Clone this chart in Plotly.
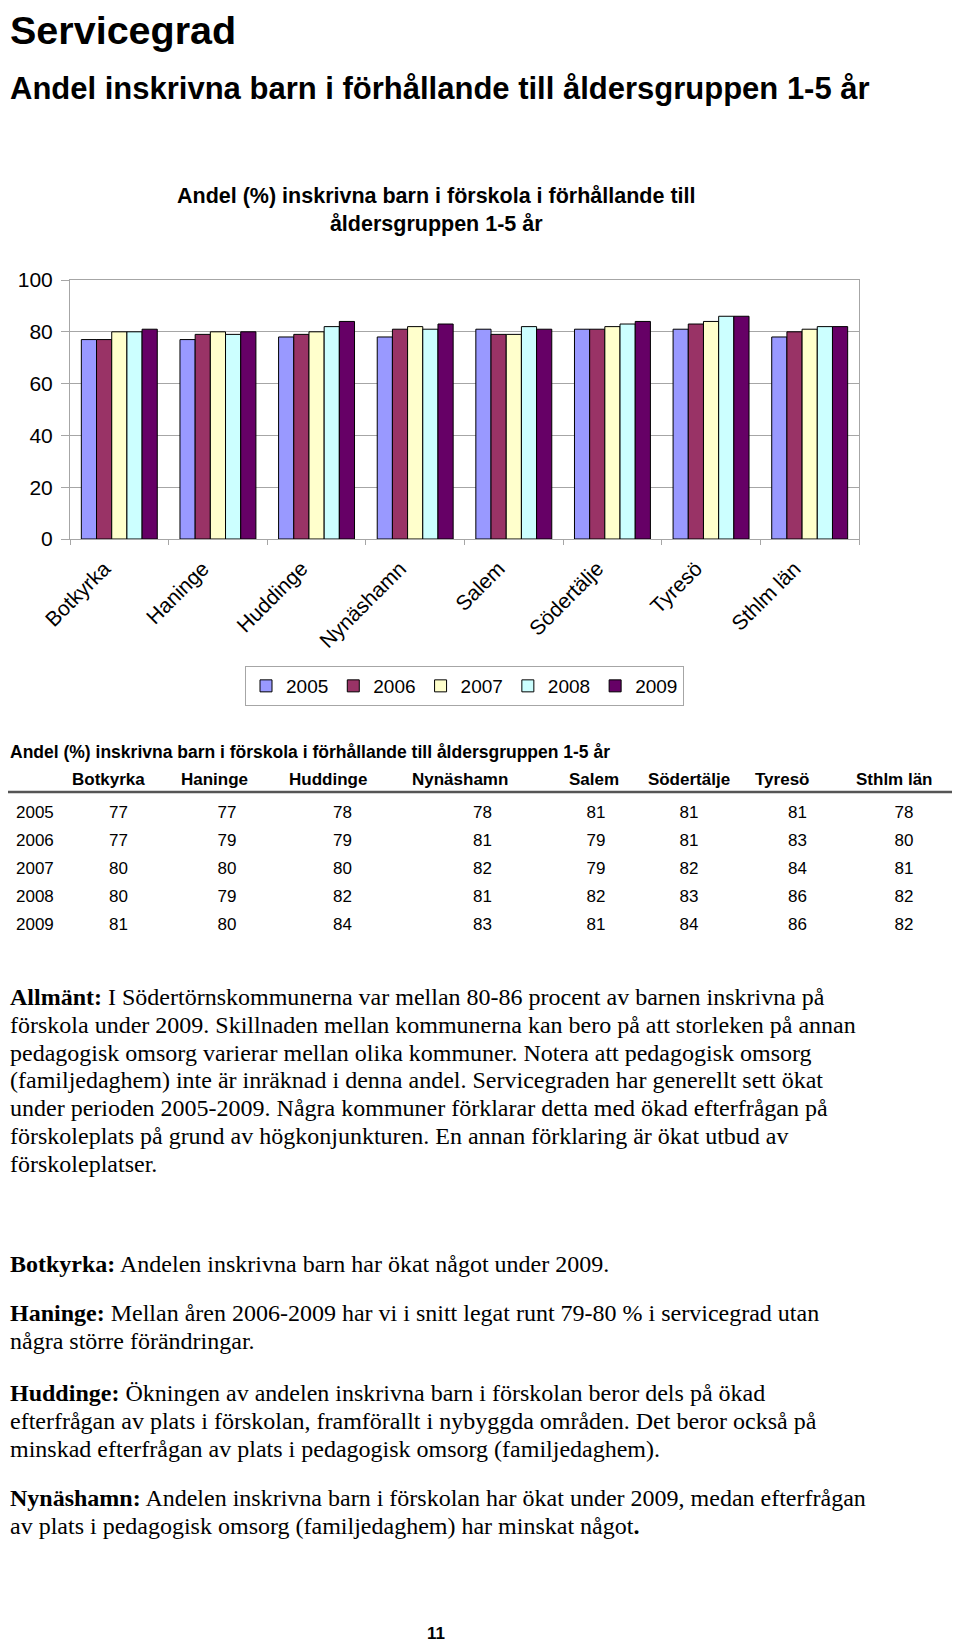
import plotly.graph_objects as go

W, H = 960, 1645
PAGE_PAD = 8  # body margin of the html page, positions below are screen pixels

municipalities = ["Botkyrka", "Haninge", "Huddinge", "Nynäshamn", "Salem", "Södertälje", "Tyresö", "Sthlm län"]
years = ["2005", "2006", "2007", "2008", "2009"]

# andel (%) inskrivna barn per år, samma ordning som municipalities
share_2005 = [77, 77, 78, 78, 81, 81, 81, 78]
share_2006 = [77, 79, 79, 81, 79, 81, 83, 80]
share_2007 = [80, 80, 80, 82, 79, 82, 84, 81]
share_2008 = [80, 79, 82, 81, 82, 83, 86, 82]
share_2009 = [81, 80, 84, 83, 81, 84, 86, 82]
series = [share_2005, share_2006, share_2007, share_2008, share_2009]

y_ticks = [0, 20, 40, 60, 80, 100]

bar_colors = ["#9999ff", "#993366", "#ffffcc", "#ccffff", "#660066"]
grey = "#a6a6a6"
sans = "Liberation Sans"
serif = "Liberation Serif"


def fx(px):
    return max(px - PAGE_PAD, 0) / W


def fy(py):
    return 1 - (py - PAGE_PAD) / H


fig = go.Figure()

for year, vals, col in zip(years, series, bar_colors):
    fig.add_trace(go.Bar(
        x=municipalities,
        y=vals,
        name=year,
        marker=dict(color=col, line=dict(color="black", width=1)),
        hoverinfo="skip",
    ))

# tabellen under diagrammet
table_cols = [years] + [[s[i] for s in series] for i in range(len(municipalities))]
fig.add_trace(go.Table(
    domain=dict(x=[fx(8), fx(960)], y=[fy(943), fy(762)]),
    columnwidth=[56, 109, 108, 123, 157, 70, 116, 101, 112],
    header=dict(
        values=[""] + ["<b>%s</b>" % m for m in municipalities],
        align=["left", "left", "left", "left", "left", "left", "center", "left", "left"],
        font=dict(family=sans, size=17, color="black"),
        height=22,
        fill_color="white",
        line_color="white",
    ),
    cells=dict(
        values=table_cols,
        align=["left"] + ["center"] * len(municipalities),
        font=dict(family=sans, size=17, color="black"),
        height=28,
        fill_color="white",
        line_color="white",
    ),
))

annotations = [
    dict(text="<b>Servicegrad</b>", x=fx(2), y=fy(30), font=dict(size=39.5)),
    dict(text="<b>Andel inskrivna barn i förhållande till åldersgruppen 1-5 år</b>",
         x=fx(0), y=fy(88), font=dict(size=31)),
    dict(text="<b>Andel (%) inskrivna barn i förskola i förhållande till<br>åldersgruppen 1-5 år</b>",
         x=fx(436), y=fy(210), xanchor="center", font=dict(size=21.5)),
    dict(text="<b>Andel (%) inskrivna barn i förskola i förhållande till åldersgruppen 1-5 år</b>",
         x=fx(8), y=fy(752), font=dict(size=17.5)),
    dict(text="<b>11</b>", x=fx(436), y=fy(1633), xanchor="center", font=dict(size=17)),
]

paragraphs = [
    (997, [
        "<b>Allmänt:</b> I Södertörnskommunerna var mellan 80-86 procent av barnen inskrivna på",
        "förskola under 2009. Skillnaden mellan kommunerna kan bero på att storleken på annan",
        "pedagogisk omsorg varierar mellan olika kommuner. Notera att pedagogisk omsorg",
        "(familjedaghem) inte är inräknad i denna andel. Servicegraden har generellt sett ökat",
        "under perioden 2005-2009. Några kommuner förklarar detta med ökad efterfrågan på",
        "förskoleplats på grund av högkonjunkturen. En annan förklaring är ökat utbud av",
        "förskoleplatser.",
    ]),
    (1264, ["<b>Botkyrka:</b> Andelen inskrivna barn har ökat något under 2009."]),
    (1313, [
        "<b>Haninge:</b> Mellan åren 2006-2009 har vi i snitt legat runt 79-80 % i servicegrad utan",
        "några större förändringar.",
    ]),
    (1393, [
        "<b>Huddinge:</b> Ökningen av andelen inskrivna barn i förskolan beror dels på ökad",
        "efterfrågan av plats i förskolan, framförallt i nybyggda områden. Det beror också på",
        "minskad efterfrågan av plats i pedagogisk omsorg (familjedaghem).",
    ]),
    (1498, [
        "<b>Nynäshamn:</b> Andelen inskrivna barn i förskolan har ökat under 2009, medan efterfrågan",
        "av plats i pedagogisk omsorg (familjedaghem) har minskat något<b>.</b>",
    ]),
]
line_step = 27.8
for top, lines in paragraphs:
    for i, line in enumerate(lines):
        annotations.append(dict(text=line, x=fx(0), y=fy(top + i * line_step),
                                font=dict(family=serif, size=24)))

for a in annotations:
    a.setdefault("xanchor", "left")
    a.update(xref="paper", yref="paper", yanchor="middle", showarrow=False)
    a["font"] = dict(family=a["font"].get("family", sans), size=a["font"]["size"], color="black")

fig.update_layout(
    width=W,
    height=H,
    margin=dict(l=0, r=0, t=0, b=0, autoexpand=False),
    paper_bgcolor="white",
    plot_bgcolor="white",
    font=dict(family=sans, size=20, color="black"),
    barmode="group",
    bargap=0.23,
    bargroupgap=0,
    showlegend=True,
    legend=dict(
        orientation="h",
        x=fx(464.5), xanchor="center",
        y=fy(666), yanchor="top",
        font=dict(size=19),
        bordercolor=grey,
        borderwidth=1,
        bgcolor="white",
        traceorder="normal",
    ),
    xaxis=dict(
        domain=[fx(70), fx(859)],
        type="category",
        automargin=False,
        tickangle=-45,
        tickfont=dict(size=21),
        ticks="outside",
        tickson="boundaries",
        ticklen=5,
        tickcolor=grey,
        ticklabelshift=-15,
        ticklabelstandoff=8,
        showline=True,
        linecolor=grey,
        mirror=True,
        showgrid=False,
    ),
    yaxis=dict(
        domain=[fy(539), fy(280)],
        range=[0, 100],
        automargin=False,
        tickvals=y_ticks,
        tickfont=dict(size=21),
        ticks="outside",
        ticklen=8,
        tickcolor=grey,
        ticklabelstandoff=4,
        showline=True,
        linecolor=grey,
        mirror=True,
        showgrid=True,
        gridcolor=grey,
        zeroline=False,
    ),
    annotations=annotations,
    shapes=[dict(type="line", xref="paper", yref="paper", x0=0, x1=1, y0=fy(792), y1=fy(792),
                 line=dict(color="#555555", width=2.5))],
)

fig.write_html("out.html", config={"displayModeBar": False})
